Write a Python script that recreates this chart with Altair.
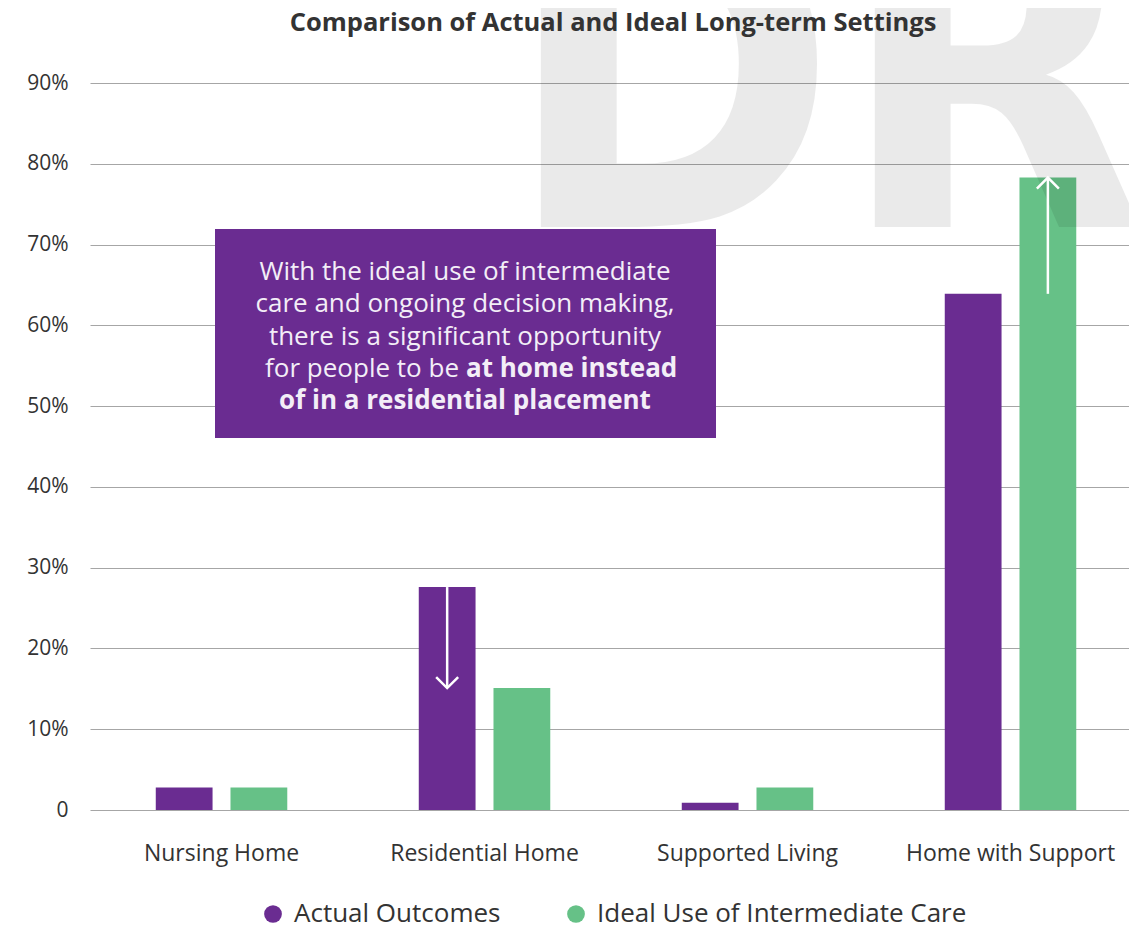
import altair as alt
import pandas as pd

# ---------------- data ----------------
categories = ["Nursing Home", "Residential Home", "Supported Living", "Home with Support"]
series_names = ["Actual Outcomes", "Ideal Use of Intermediate Care"]
actual = [0.028, 0.276, 0.009, 0.639]
ideal = [0.028, 0.151, 0.028, 0.783]
y_ticks = [0.0, 0.1, 0.2, 0.3, 0.4, 0.5, 0.6, 0.7, 0.8, 0.9]
colors = ["#6A2C91", "#66C187"]

title_text = "Comparison of Actual and Ideal Long-term Settings"
note_lines = [
    "With the ideal use of intermediate",
    "care and ongoing decision making,",
    "there is a significant opportunity",
]
note_mixed_plain = "for people to be"
note_mixed_bold = "at home instead"
note_last_bold = "of in a residential placement"

# arrows: from the actual value to the ideal value, drawn on one bar of the group
arrow_categories = ["Residential Home", "Home with Support"]
arrow_on_series = ["Actual Outcomes", "Ideal Use of Intermediate Care"]
watermark = "DRAFT"

# ---------------- tables ----------------
rows = []
for c, a, i in zip(categories, actual, ideal):
    rows.append({"category": c, "series": series_names[0], "value": a})
    rows.append({"category": c, "series": series_names[1], "value": i})
df = pd.DataFrame(rows)

arr_rows = []
for c, s in zip(arrow_categories, arrow_on_series):
    k = categories.index(c)
    start, end = actual[k], ideal[k]
    arr_rows.append({"category": c, "series": s, "start": start, "end": end,
                     "dir": "down" if end < start else "up"})
arr = pd.DataFrame(arr_rows)

one = pd.DataFrame({"t": [watermark]})

FONT = "Open Sans"
TEXT_COL = "#333333"
NOTE_COL = "#F3EEF7"
W, H = 1039, 727

x_scale = alt.Scale(paddingInner=0.5, paddingOuter=0.2253, align=0.555)
xo_scale = alt.Scale(paddingInner=0.24, paddingOuter=0)

x_enc = alt.X(
    "category:N", sort=categories, scale=x_scale,
    axis=alt.Axis(title=None, labelAngle=0, labelFontSize=23, labelFont=FONT,
                  labelColor=TEXT_COL, labelPadding=32, labelLimit=400,
                  ticks=False, domain=False, grid=False),
)
xo_enc = alt.XOffset("series:N", sort=series_names, scale=xo_scale)

bars = alt.Chart(df).mark_bar().encode(
    x=x_enc,
    xOffset=xo_enc,
    y=alt.Y("value:Q", scale=alt.Scale(domain=[0, 0.9], nice=False),
            axis=alt.Axis(values=y_ticks, title=None, domain=False, ticks=False,
                          labelExpr="datum.value == 0 ? '0' : format(datum.value, '.0%')",
                          labelFontSize=21, labelFont=FONT, labelColor=TEXT_COL,
                          labelPadding=22, gridColor="#a6a6a6", gridWidth=1.2)),
    color=alt.Color("series:N", sort=series_names,
                    scale=alt.Scale(domain=series_names, range=colors),
                    legend=alt.Legend(title=None, orient="none", direction="horizontal",
                                      legendX=170, legendY=818, symbolType="circle",
                                      symbolSize=314, symbolOpacity=1, symbolStrokeWidth=0,
                                      labelFontSize=26, labelFont=FONT, labelColor=TEXT_COL,
                                      labelOffset=8, columnPadding=62, labelLimit=600)),
)

title_mark = alt.Chart(one).mark_text(
    text=title_text, font=FONT, fontSize=25.5, fontWeight="bold", color=TEXT_COL,
    align="center", baseline="middle"
).encode(x=alt.value(523), y=alt.value(-60))

mark_wm = alt.Chart(one).mark_text(
    font="DejaVu Sans Condensed, DejaVu Sans", fontWeight="bold", fontSize=447,
    color="#000000", opacity=0.08, align="left", baseline="alphabetic"
).encode(text="t:N", x=alt.value(414), y=alt.value(144))

box = alt.Chart(one).mark_rect(color="#6A2C91").encode(
    x=alt.value(125), x2=alt.value(626), y=alt.value(146), y2=alt.value(355)
)

NOTE_FS = 26
note_layers = []
line_y = [189, 221, 254, 286, 318]
for txt, yy in zip(note_lines, line_y[:3]):
    note_layers.append(
        alt.Chart(one).mark_text(text=txt, font=FONT, fontSize=NOTE_FS, color=NOTE_COL,
                                 align="center", baseline="middle")
        .encode(x=alt.value(375), y=alt.value(yy))
    )
note_layers.append(
    alt.Chart(one).mark_text(text=note_mixed_plain, font=FONT, fontSize=NOTE_FS, color=NOTE_COL,
                             align="right", baseline="middle")
    .encode(x=alt.value(369), y=alt.value(line_y[3]))
)
note_layers.append(
    alt.Chart(one).mark_text(text=note_mixed_bold, font=FONT, fontSize=NOTE_FS, fontWeight="bold",
                             color=NOTE_COL, align="left", baseline="middle")
    .encode(x=alt.value(376), y=alt.value(line_y[3]))
)
note_layers.append(
    alt.Chart(one).mark_text(text=note_last_bold, font=FONT, fontSize=NOTE_FS, fontWeight="bold",
                             color=NOTE_COL, align="center", baseline="middle")
    .encode(x=alt.value(375), y=alt.value(line_y[4]))
)

shafts = alt.Chart(arr).mark_rule(color="white", strokeWidth=2.5).encode(
    x=alt.X("category:N", sort=categories, scale=x_scale),
    xOffset=alt.XOffset("series:N", sort=series_names, scale=xo_scale),
    y="start:Q", y2="end:Q",
)
heads = alt.Chart(arr).mark_point(filled=False, stroke="white", strokeWidth=2.5,
                                  size=484, opacity=1).encode(
    x=alt.X("category:N", sort=categories, scale=x_scale),
    xOffset=alt.XOffset("series:N", sort=series_names, scale=xo_scale),
    y="end:Q",
    shape=alt.Shape("dir:N", scale=alt.Scale(domain=["down", "up"],
                                             range=["M-1,-1L0,0L1,-1", "M-1,1L0,0L1,1"]),
                    legend=None),
)

chart = alt.layer(bars, mark_wm, title_mark, box, *note_layers, shafts, heads).properties(
    width=W, height=H,
    autosize=alt.AutoSizeParams(type="none"),
    padding={"left": 82, "top": 75, "right": 0, "bottom": 114},
).configure_view(stroke=None)

chart.save("out.html", embed_options={"renderer": "svg", "actions": False})
